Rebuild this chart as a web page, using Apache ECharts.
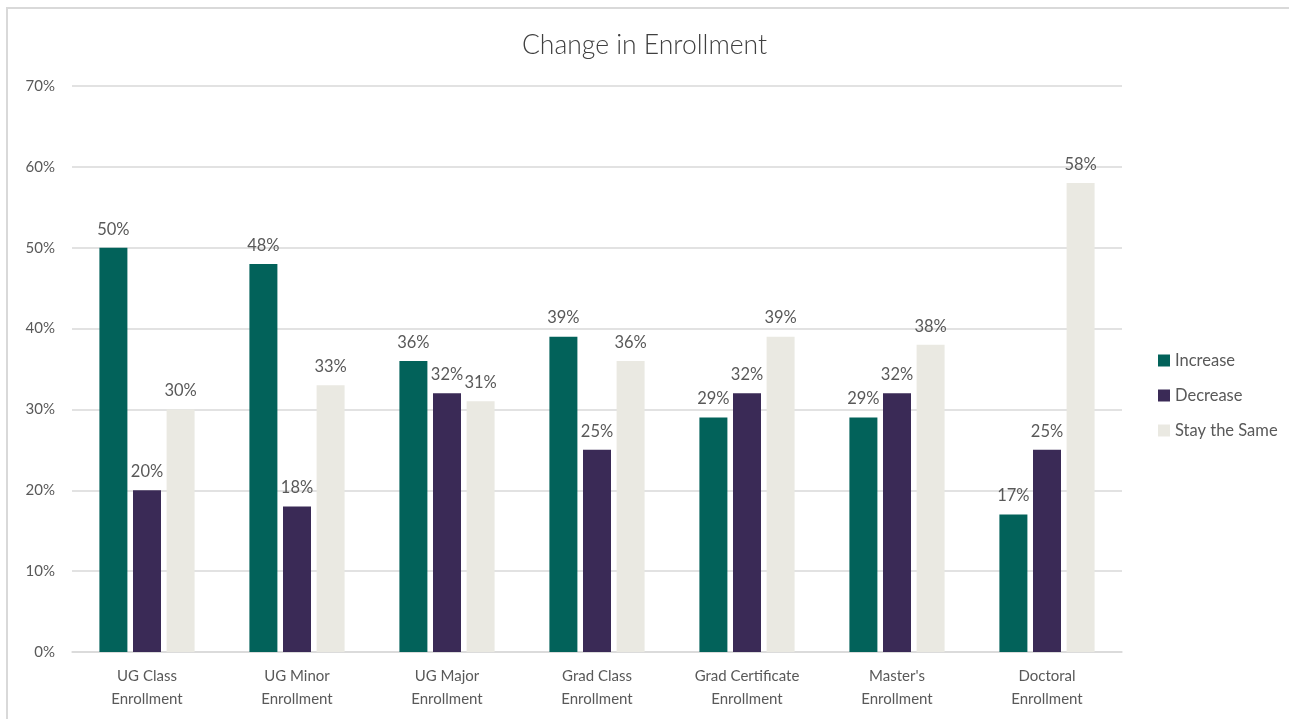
<!DOCTYPE html>
<html>
<head>
<meta charset="utf-8">
<script src="https://cdn.jsdelivr.net/npm/echarts@6/dist/echarts.min.js"></script>
<style>
  html, body { margin: 0; padding: 0; background: #fff; }
  #frame { position: absolute; left: 6px; top: 7px; width: 1300px; height: 730px;
           border-left: 2px solid #d9d9d9; border-top: 2px solid #d9d9d9; box-sizing: border-box; }
  #chart { position: absolute; left: 0; top: 0; width: 1289px; height: 719px; }
</style>
</head>
<body>
<div id="frame"></div>
<div id="chart"></div>
<script>
const categories = [
  'UG Class\nEnrollment',
  'UG Minor\nEnrollment',
  'UG Major\nEnrollment',
  'Grad Class\nEnrollment',
  'Grad Certificate\nEnrollment',
  "Master's\nEnrollment",
  'Doctoral\nEnrollment'
];
const increase = [50, 48, 36, 39, 29, 29, 17];
const decrease = [20, 18, 32, 25, 32, 32, 25];
const staySame = [30, 33, 31, 36, 39, 38, 58];

const FONT = 'Lato, "Open Sans", sans-serif';
const chart = echarts.init(document.getElementById('chart'), null, { renderer: 'canvas' });

const label = {
  show: true, position: 'top', distance: 10,
  formatter: p => p.value + '%',
  color: '#595959', fontSize: 16.5, fontFamily: FONT
};

function series(name, data, color) {
  return {
    name, type: 'bar', data, barWidth: 28, barGap: '20%',
    itemStyle: { color }, label, emphasis: { disabled: true }
  };
}

chart.setOption({
  animation: false,
  title: {
    text: 'Change in Enrollment', left: 'center', top: 27,
    textStyle: { color: '#404040', fontSize: 26.5, fontWeight: 300, fontFamily: FONT }
  },
  legend: {
    orient: 'vertical', left: 1153, top: 347, itemGap: 18,
    itemWidth: 12, itemHeight: 12, icon: 'rect',
    textStyle: { color: '#595959', fontSize: 16.5, fontFamily: FONT }
  },
  grid: { left: 72, right: 167, top: 86, bottom: 67, containLabel: false },
  xAxis: {
    type: 'category', data: categories,
    axisLine: { lineStyle: { color: '#d9d9d9', width: 1.5 } },
    axisTick: { show: false },
    axisLabel: { color: '#595959', fontSize: 15, fontFamily: FONT, lineHeight: 23, margin: 13 }
  },
  yAxis: {
    type: 'value', min: 0, max: 70, interval: 10,
    axisLabel: { formatter: '{value}%', color: '#595959', fontSize: 15, fontFamily: FONT, margin: 17 },
    splitLine: { lineStyle: { color: '#d9d9d9', width: 1.5 } },
    axisLine: { show: false }, axisTick: { show: false }
  },
  series: [
    series('Increase', increase, '#02625a'),
    series('Decrease', decrease, '#3a2a56'),
    series('Stay the Same', staySame, '#eae9e2')
  ]
});
</script>
</body>
</html>
